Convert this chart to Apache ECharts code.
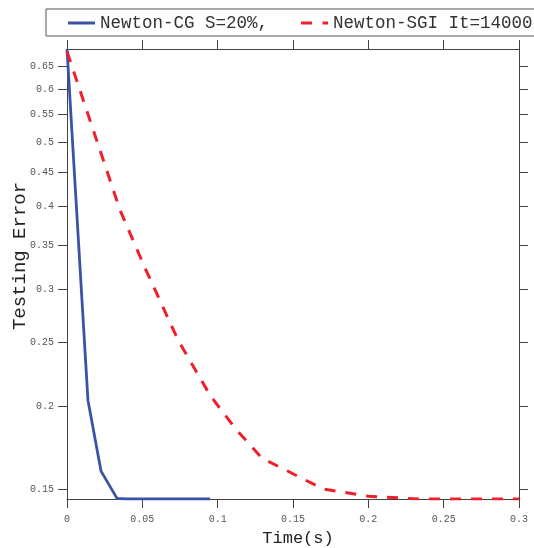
<!DOCTYPE html>
<html><head><meta charset="utf-8">
<script src="https://cdn.jsdelivr.net/npm/echarts@6/dist/echarts.min.js"></script>
<style>html,body{margin:0;padding:0;background:#fff}#c{width:534px;height:548px}</style>
</head><body><div id="c"></div>
<script>
const seriesNames = ['Newton-CG S=20%,', 'Newton-SGI It=14000'];
const cgTime  = [0, 0.0139, 0.0226, 0.0332, 0.040, 0.095];
const cgError = [0.691, 0.2042, 0.1596, 0.1452, 0.1449, 0.1449];
const sgiTime  = [0, 0.0352, 0.0518, 0.0737, 0.0949, 0.1115, 0.1294, 0.148, 0.170, 0.200, 0.234, 0.300];
const sgiError = [0.685, 0.395, 0.323, 0.2516, 0.2078, 0.1853, 0.167, 0.159, 0.150, 0.1463, 0.1449, 0.1449];
const xTicks = [0, 0.05, 0.1, 0.15, 0.2, 0.25, 0.3];
const yTicks = [0.15, 0.2, 0.25, 0.3, 0.35, 0.4, 0.45, 0.5, 0.55, 0.6, 0.65];

const FONT = "'Liberation Mono', 'DejaVu Sans Mono', monospace";
const AXC = '#444';
const BLUE = '#3a53a4', RED = '#f0202a';
const lg = v => Math.log10(v);
const allErr = cgError.concat(sgiError);
const yMin = lg(Math.min(...allErr));
const yMax = lg(Math.max(...allErr));
const yTickPos = yTicks.map(lg);

const chart = echarts.init(document.getElementById('c'), null, {renderer: 'canvas'});
const xBase = {
  type: 'value', min: xTicks[0], max: xTicks[xTicks.length - 1], interval: xTicks[1] - xTicks[0],
  splitLine: {show: false},
  axisLine: {show: true, onZero: false, lineStyle: {color: AXC, width: 1}},
  axisTick: {show: true, length: 9, lineStyle: {color: AXC, width: 1}}
};
const yBase = {
  type: 'value', min: yMin, max: yMax,
  splitLine: {show: false},
  axisLine: {show: true, onZero: false, lineStyle: {color: AXC, width: 1}},
  axisTick: {show: true, length: 9, customValues: yTickPos, lineStyle: {color: AXC, width: 1}}
};
chart.setOption({
  animation: false,
  backgroundColor: '#fff',
  grid: {left: 67, right: 15, top: 49, bottom: 49, containLabel: false, outerBoundsMode: 'none'},
  legend: {
    left: 46, top: 9, width: 800,
    padding: [5, 22, 4, 22],
    itemGap: 33, itemWidth: 27, itemHeight: 3, symbolKeepAspect: false,
    borderColor: '#555', borderWidth: 1, borderRadius: 0,
    textStyle: {fontFamily: FONT, fontSize: 17.5, color: '#333'},
    data: [
      {name: seriesNames[0], icon: 'rect', itemStyle: {color: BLUE, borderWidth: 0, opacity: 1}},
      {name: seriesNames[1], icon: 'path://M0,0H11V3H0Z M21.5,0H27V3H21.5Z',
       itemStyle: {color: RED, borderWidth: 0, opacity: 1}}
    ]
  },
  xAxis: [
    Object.assign({}, xBase, {
      position: 'bottom',
      axisLabel: {show: true, color: '#555', fontFamily: FONT, fontSize: 10, margin: 15},
      name: 'Time(s)', nameLocation: 'middle', nameGap: 31, nameMoveOverlap: false,
      nameTextStyle: {fontFamily: FONT, fontSize: 17, color: '#222', padding: [0, 0, 0, 10]}
    }),
    Object.assign({}, xBase, {position: 'top', axisLabel: {show: false}})
  ],
  yAxis: [
    Object.assign({}, yBase, {
      position: 'left',
      axisLabel: {show: true, customValues: yTickPos, color: '#555', fontFamily: FONT, fontSize: 10, margin: 13,
        formatter: v => String(parseFloat(Math.pow(10, v).toFixed(2)))},
      name: 'Testing Error', nameLocation: 'middle', nameGap: 38, nameMoveOverlap: false,
      nameTextStyle: {fontFamily: FONT, fontSize: 19, color: '#222', padding: [0, 0, 0, 36]}
    }),
    Object.assign({}, yBase, {position: 'right', axisLabel: {show: false}})
  ],
  series: [
    {
      name: seriesNames[0], type: 'line', symbol: 'none', showSymbol: false,
      xAxisIndex: 0, yAxisIndex: 0,
      itemStyle: {color: BLUE},
      lineStyle: {color: BLUE, width: 2.8},
      data: cgTime.map((t, i) => [t, lg(cgError[i])])
    },
    {
      name: seriesNames[1], type: 'line', symbol: 'none', showSymbol: false,
      xAxisIndex: 0, yAxisIndex: 0,
      itemStyle: {color: RED},
      lineStyle: {color: RED, width: 3, type: [11, 10], cap: 'butt'},
      data: sgiTime.map((t, i) => [t, lg(sgiError[i])])
    }
  ]
});
</script></body></html>
